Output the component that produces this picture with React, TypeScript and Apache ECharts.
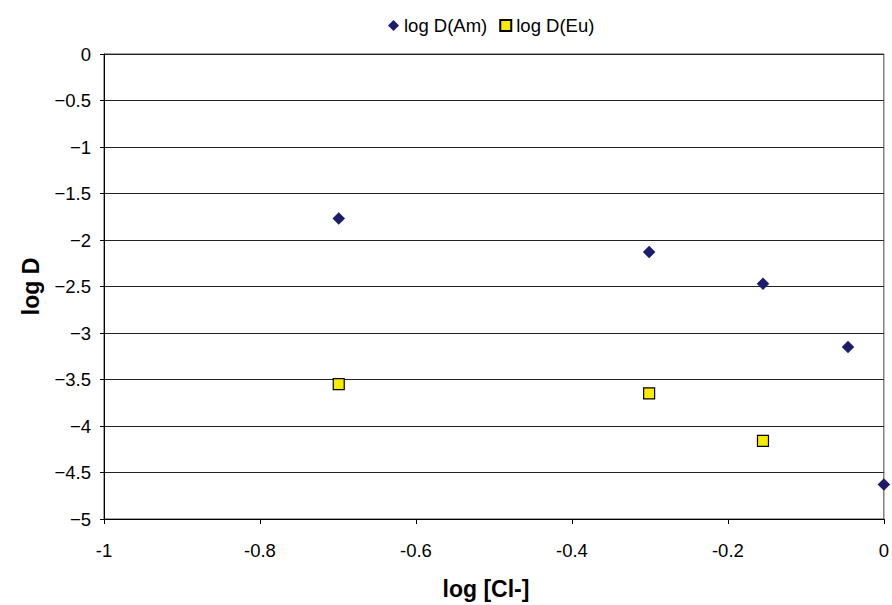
import React, { useEffect, useRef } from "react";
import * as echarts from "echarts";

// log [Cl-] positions of the measurements
const logClAm = [-0.699, -0.301, -0.155, -0.046, 0];
const logDAm = [-1.77, -2.13, -2.47, -3.15, -4.63];
const logClEu = [-0.699, -0.301, -0.155];
const logDEu = [-3.55, -3.65, -4.16];

const xTickLabels = ["-1", "-0.8", "-0.6", "-0.4", "-0.2", "0"];
const yTickLabels = ["\u22125", "\u22124.5", "\u22124", "\u22123.5", "\u22123", "\u22122.5", "\u22122", "\u22121.5", "\u22121", "\u22120.5", "0"];

const FONT = "'Liberation Sans', Arial, sans-serif";

export default function App() {
  const ref = useRef<HTMLDivElement>(null);

  useEffect(() => {
    if (!ref.current) return;
    const chart = echarts.init(ref.current, undefined, { renderer: "svg" });
    chart.setOption({
      animation: false,
      backgroundColor: "#ffffff",
      textStyle: { fontFamily: FONT },
      legend: {
        left: 383,
        top: 11,
        itemWidth: 11,
        itemHeight: 11,
        itemGap: 12,
        textStyle: { fontFamily: FONT, fontSize: 18.5, color: "#000" },
        data: ["log D(Am)", "log D(Eu)"],
      },
      grid: {
        left: 104,
        right: 5,
        top: 54,
        bottom: 83.5,
        show: true,
        borderColor: "#444",
        borderWidth: 1,
      },
      xAxis: {
        type: "value",
        min: -1,
        max: 0,
        interval: 0.2,
        name: "log [Cl-]",
        nameLocation: "middle",
        nameGap: 58,
        nameTextStyle: { fontFamily: FONT, fontSize: 23, fontWeight: "bold", color: "#000", padding: [0, 16, 0, 0] },
        axisLine: { show: true, onZero: false, lineStyle: { color: "#000", width: 1 } },
        axisTick: { show: true, inside: false, length: 5, lineStyle: { color: "#000" } },
        axisLabel: {
          margin: 22,
          fontFamily: FONT,
          fontSize: 18.5,
          color: "#000",
          formatter: (v: number) => xTickLabels[Math.round((v + 1) / 0.2)] ?? String(v),
        },
        splitLine: { show: false },
      },
      yAxis: {
        type: "value",
        min: -5,
        max: 0,
        interval: 0.5,
        name: "log D",
        nameLocation: "middle",
        nameRotate: 90,
        nameGap: 62,
        nameTextStyle: { fontFamily: FONT, fontSize: 23, fontWeight: "bold", color: "#000" },
        axisLine: { show: true, onZero: false, lineStyle: { color: "#000", width: 1 } },
        axisTick: { show: true, inside: false, length: 4, lineStyle: { color: "#000" } },
        axisLabel: {
          margin: 13,
          fontFamily: FONT,
          fontSize: 18.5,
          color: "#000",
          formatter: (v: number) => yTickLabels[Math.round((v + 5) / 0.5)] ?? String(v),
        },
        splitLine: { show: true, lineStyle: { color: "#222", width: 1 } },
      },
      series: [
        {
          name: "log D(Am)",
          type: "scatter",
          symbol: "diamond",
          symbolSize: 12.5,
          clip: false,
          itemStyle: { color: "#1C1C6C", opacity: 1 },
          data: logClAm.map((x, i) => [x, logDAm[i]]),
        },
        {
          name: "log D(Eu)",
          type: "scatter",
          symbol: "rect",
          symbolSize: 11,
          clip: false,
          itemStyle: { color: "#F7EC00", borderColor: "#000", borderWidth: 1.2, opacity: 1 },
          data: logClEu.map((x, i) => [x, logDEu[i]]),
        },
      ],
    });
    return () => chart.dispose();
  }, []);

  return (
    <div
      ref={ref}
      style={{ position: "absolute", left: 0, top: 0, width: 892, height: 605 }}
    />
  );
}
